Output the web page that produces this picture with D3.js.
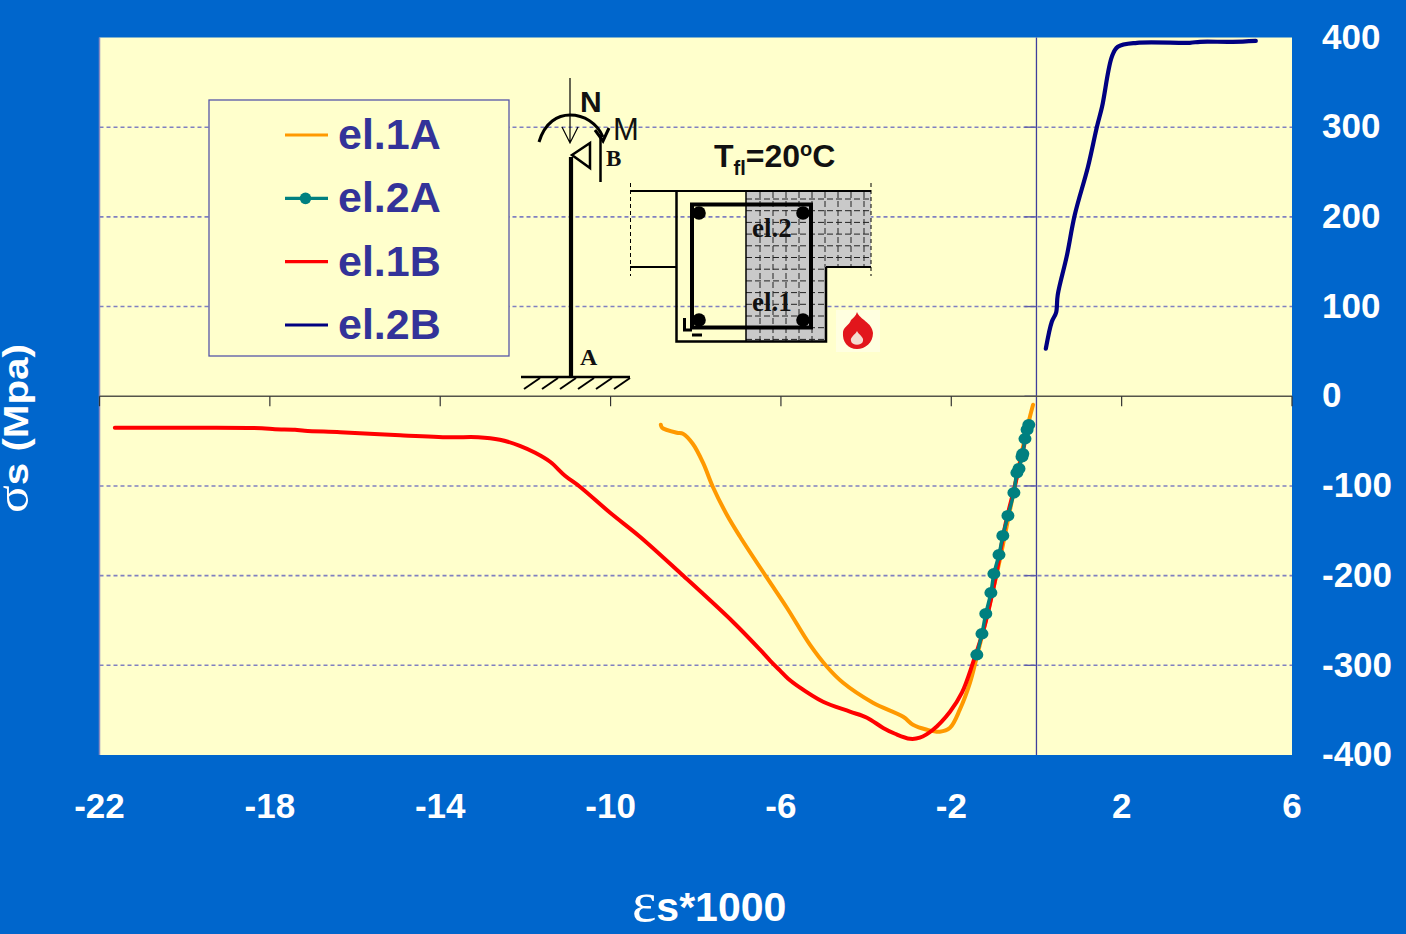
<!DOCTYPE html>
<html>
<head>
<meta charset="utf-8">
<script src="https://cdn.jsdelivr.net/npm/d3@7"></script>
<style>
  html, body { margin: 0; padding: 0; background: #0066cc; overflow: hidden; }
  svg { display: block; font-family: "Liberation Sans", Arial, sans-serif; }
</style>
</head>
<body>
<div id="chart"></div>
<script>
const xTicks = [-22, -18, -14, -10, -6, -2, 2, 6];
const yTicks = [-400, -300, -200, -100, 0, 100, 200, 300, 400];
const legendLabels = ["el.1A", "el.2A", "el.1B", "el.2B"];
const xTitle = "s*1000";
const yTitle = "s (Mpa)";

const el1A_x = [-8.82, -8.79, -8.44, -8.30, -8.07, -7.83, -7.60, -7.27, -6.96, -6.33, -5.86, -5.32, -4.92, -4.54, -3.84, -3.13, -2.90, -2.57, -2.27, -2.03, -1.80, -1.56, -1.40, -1.09, -0.86, -0.62, -0.39, -0.20, -0.08];
const el1A_y = [-31.8, -35.1, -40.7, -41.8, -53.0, -74.1, -100.9, -132.1, -156.6, -202.3, -235.8, -277.0, -301.6, -319.5, -341.7, -357.4, -366.3, -371.8, -374.0, -369.6, -349.5, -319.4, -290.4, -230.2, -182.3, -126.5, -73.0, -31.8, -9.5];

const el2A_x = [-1.40, -1.28, -1.19, -1.07, -1.00, -0.88, -0.79, -0.67, -0.53, -0.46, -0.41, -0.34, -0.32, -0.27, -0.22, -0.18];
const el2A_y = [-288.2, -264.8, -242.5, -219.1, -197.9, -176.7, -155.5, -133.2, -107.6, -85.3, -80.8, -67.4, -64.1, -47.4, -37.3, -31.8];

const el1B_x = [-21.64, -19.64, -18.19, -17.88, -17.41, -17.18, -16.35, -14.94, -13.77, -13.11, -12.60, -12.13, -11.77, -11.42, -11.07, -10.72, -10.01, -9.31, -8.37, -7.13, -6.49, -6.25, -6.02, -5.83, -5.62, -5.01, -4.38, -3.98, -3.60, -3.32, -2.97, -2.74, -2.43, -2.03, -1.75, -1.49, -1.21, -0.97, -0.72, -0.53, -0.34, -0.18];
const el1B_y = [-35.1, -35.1, -35.7, -36.8, -37.3, -38.5, -40.1, -43.5, -45.7, -45.7, -48.5, -55.2, -63.0, -73.0, -88.6, -100.9, -129.9, -156.6, -196.8, -251.4, -282.6, -295.0, -306.0, -315.0, -322.6, -340.6, -351.6, -358.4, -369.8, -376.3, -381.9, -380.7, -371.8, -351.7, -330.5, -297.1, -254.7, -204.6, -141.0, -104.2, -65.2, -31.8];

const el2B_x = [0.22, 0.36, 0.46, 0.50, 0.71, 0.90, 1.21, 1.42, 1.54, 1.77, 1.91, 2.36, 3.60, 3.84, 4.61, 5.15];
const el2B_y = [53.0, 83.1, 93.1, 113.2, 155.9, 202.3, 255.9, 300.5, 322.7, 378.5, 389.6, 394.1, 394.1, 395.2, 395.2, 396.3];

const colors = { el1A: "#ff9900", el2A: "#008080", el1B: "#ff0000", el2B: "#000080" };

const width = 1406, height = 934;
const plot = { left: 99.5, right: 1292, top: 37.5, bottom: 755 };

const x = d3.scaleLinear().domain([-22, 6]).range([plot.left, plot.right]);
const y = d3.scaleLinear().domain([-400, 400]).range([plot.bottom, plot.top]);

const svg = d3.select("#chart").append("svg")
  .attr("width", width)
  .attr("height", height);

svg.append("rect").attr("width", width).attr("height", height).attr("fill", "#0066cc");

svg.append("rect")
  .attr("x", plot.left).attr("y", plot.top)
  .attr("width", plot.right - plot.left).attr("height", plot.bottom - plot.top)
  .attr("fill", "#ffffcc");

svg.append("path")
  .attr("d", `M${plot.left},${plot.top}V${plot.bottom}`)
  .attr("stroke", "#8a8ac0").attr("stroke-width", 1.5).attr("fill", "none");

// grid
svg.append("g").selectAll("line")
  .data(yTicks.filter(d => d !== 0 && Math.abs(d) !== 400))
  .enter().append("line")
  .attr("x1", plot.left).attr("x2", plot.right)
  .attr("y1", d => y(d)).attr("y2", d => y(d))
  .attr("stroke", "#8080c0")
  .attr("stroke-width", 1.6)
  .attr("stroke-dasharray", "4,3");

// vertical axis at x = 0
svg.append("g")
  .attr("transform", `translate(${x(0)},0)`)
  .call(d3.axisLeft(y).tickValues(yTicks.filter(d => Math.abs(d) !== 400)).offset(0).tickSize(12).tickSizeOuter(0).tickFormat(""))
  .call(g => g.selectAll("line").attr("stroke", "#5c5ca8").attr("stroke-width", 1.4))
  .call(g => g.select(".domain").attr("stroke", "#3f3f9c").attr("stroke-width", 1.3));

// horizontal axis at y = 0
svg.append("g")
  .attr("transform", `translate(0,${y(0)})`)
  .call(d3.axisBottom(x).tickValues(xTicks).offset(0).tickSize(10).tickSizeOuter(0).tickFormat(""))
  .call(g => g.selectAll("line").attr("stroke", "#333").attr("stroke-width", 1.2))
  .call(g => g.select(".domain").attr("stroke", "#55554a").attr("stroke-width", 1.6));

// tick labels
svg.append("g")
  .attr("transform", `translate(0,${plot.bottom})`)
  .call(d3.axisBottom(x).tickValues(xTicks).offset(0).tickSize(0).tickPadding(38).tickFormat(d => String(d)))
  .call(g => g.select(".domain").remove())
  .call(g => g.selectAll("text")
    .attr("fill", "#ffffff").attr("font-size", 35).attr("font-weight", "bold")
    .attr("font-family", "Liberation Sans"));

svg.append("g")
  .attr("transform", `translate(${plot.right},0)`)
  .call(d3.axisRight(y).tickValues(yTicks).offset(0).tickSize(0).tickPadding(30).tickFormat(d => String(d)))
  .call(g => g.select(".domain").remove())
  .call(g => g.selectAll("text")
    .attr("fill", "#ffffff").attr("font-size", 35).attr("font-weight", "bold")
    .attr("font-family", "Liberation Sans"));

// axis titles
const xt = svg.append("text")
  .attr("x", 632).attr("y", 921)
  .attr("fill", "#fff").attr("font-size", 41).attr("font-weight", "bold");
xt.append("tspan").attr("font-family", "Liberation Serif").attr("font-weight", "normal").attr("font-size", 58).text("ε");
xt.append("tspan").text(xTitle);

const yt = svg.append("text")
  .attr("transform", "translate(28,513) rotate(-90) scale(1.12,1)")
  .attr("fill", "#fff").attr("font-size", 36).attr("font-weight", "bold");
yt.append("tspan").attr("font-family", "Liberation Serif").attr("font-weight", "normal").attr("font-size", 46).text("σ");
yt.append("tspan").text(yTitle);

// legend
const legend = svg.append("g");
legend.append("rect")
  .attr("x", 209).attr("y", 100).attr("width", 300).attr("height", 256)
  .attr("fill", "#ffffcc").attr("stroke", "#5656a8").attr("stroke-width", 1.3);

const legendY = d3.scalePoint().domain(legendLabels).range([135, 325]);
const legendColor = d3.scaleOrdinal().domain(legendLabels).range([colors.el1A, colors.el2A, colors.el1B, colors.el2B]);

legend.selectAll("line").data(legendLabels).enter().append("line")
  .attr("x1", 285).attr("x2", 328)
  .attr("y1", d => legendY(d)).attr("y2", d => legendY(d))
  .attr("stroke", d => legendColor(d)).attr("stroke-width", 3.2);

legend.append("circle")
  .attr("cx", 305.5).attr("cy", legendY("el.2A")).attr("r", 5.8).attr("fill", colors.el2A);

legend.selectAll("text").data(legendLabels).enter().append("text")
  .attr("x", 338).attr("y", d => legendY(d) + 14)
  .attr("fill", "#333399").attr("font-size", 43).attr("font-weight", "bold")
  .text(d => d);

// inset drawing: column and cross section
const inset = svg.append("g").attr("fill", "none").attr("stroke", "#000");

inset.append("path").attr("d", "M570,78V143M562,127L570,143L578,127").attr("stroke-width", 1.2);
inset.append("path").attr("d", "M571,157V377").attr("stroke-width", 4.2);
inset.append("path").attr("d", "M521,377H630").attr("stroke-width", 2.5);
inset.selectAll(".hatch").data(d3.range(6)).enter().append("line")
  .attr("x1", d => 540 + d * 18).attr("x2", d => 524 + d * 18)
  .attr("y1", 378).attr("y2", 389).attr("stroke-width", 2);
inset.append("path").attr("d", "M539,142C545,122 558,115 570,115C584,115 597,123 603,137").attr("stroke-width", 3);
inset.append("path").attr("d", "M595,130L603,141L609,128").attr("stroke-width", 3);
inset.append("path").attr("d", "M590,143L572,155L590,168Z").attr("stroke-width", 2.5);
inset.append("path").attr("d", "M600.5,135V182").attr("stroke-width", 2.5);

// gray heated zone with dashed mesh
inset.append("path")
  .attr("d", "M746,192H871V267H825V341H746Z")
  .attr("fill", "#c9c9c9").attr("stroke", "none");

const mesh = inset.append("g").attr("stroke-width", 1).attr("stroke", "#222").attr("stroke-dasharray", "6,3");
mesh.selectAll(".mh").data(d3.range(199, 340, 11.7)).enter().append("line")
  .attr("x1", 746).attr("y1", d => d).attr("y2", d => d)
  .attr("x2", d => d < 266 ? 871 : 825);
mesh.selectAll(".mv").data(d3.range(760, 871, 13)).enter().append("line")
  .attr("x1", d => d).attr("x2", d => d).attr("y1", 192)
  .attr("y2", d => d < 825 ? 341 : 267);

inset.append("path").attr("d", "M630,191H871M630,267H676M826,267H871").attr("stroke-width", 2);
inset.append("path").attr("d", "M676.5,191V341.5H826V267").attr("stroke-width", 2.5);
inset.append("path").attr("d", "M746,191V341").attr("stroke-width", 1.5);
inset.append("path").attr("d", "M630.5,183V276M871,183V276").attr("stroke-width", 1).attr("stroke-dasharray", "4,3");
inset.append("rect").attr("x", 692).attr("y", 204.5).attr("width", 119).attr("height", 123).attr("stroke-width", 4);
inset.append("path").attr("d", "M684.5,318V330H692M692,335H702").attr("stroke-width", 3);

inset.selectAll(".bar").data([[699, 213], [803, 213], [699, 320], [803, 320]]).enter().append("circle")
  .attr("cx", d => d[0]).attr("cy", d => d[1]).attr("r", 6.8)
  .attr("fill", "#000").attr("stroke", "none");

// flame
inset.append("rect").attr("x", 836).attr("y", 310).attr("width", 44).attr("height", 42)
  .attr("fill", "#ffffe0").attr("stroke", "none");
inset.append("path")
  .attr("d", "M857,312C860,320 872,322 873,333C873,343 865,349 857,349C848,349 842,342 843,332C844,326 849,326 851,320C853,318 856,316 857,312Z")
  .attr("fill", "#e2161c").attr("stroke", "none");
inset.append("path")
  .attr("d", "M857,331C859,335 864,337 863,341C862,346 852,346 851,341C850,337 855,335 857,331Z")
  .attr("fill", "#f4dcd0").attr("stroke", "none");

// inset labels
const insetText = [
  { t: "N", px: 580, py: 112, size: 30, weight: "bold", family: "Liberation Sans" },
  { t: "M", px: 613, py: 140, size: 31, weight: "normal", family: "Liberation Sans" },
  { t: "B", px: 606, py: 166, size: 23, weight: "bold", family: "Liberation Serif" },
  { t: "A", px: 580, py: 365, size: 24, weight: "bold", family: "Liberation Serif" },
  { t: "el.2", px: 752, py: 237, size: 27, weight: "bold", family: "Liberation Serif" },
  { t: "el.1", px: 752, py: 311, size: 27, weight: "bold", family: "Liberation Serif" }
];
svg.append("g").selectAll("text").data(insetText).enter().append("text")
  .attr("x", d => d.px).attr("y", d => d.py)
  .attr("font-size", d => d.size).attr("font-weight", d => d.weight)
  .attr("font-family", d => d.family).attr("fill", "#111")
  .text(d => d.t);

const tfl = svg.append("text").attr("x", 714).attr("y", 167)
  .attr("font-size", 32).attr("font-weight", "bold").attr("fill", "#111");
tfl.append("tspan").text("T");
tfl.append("tspan").attr("font-size", 20).attr("dy", 8).text("fl");
tfl.append("tspan").attr("dy", -8).text("=20");
tfl.append("tspan").attr("font-size", 20).attr("dy", -11).text("o");
tfl.append("tspan").attr("dy", 11).text("C");

// curves
const line = d3.line()
  .x(d => x(d[0]))
  .y(d => y(d[1]))
  .curve(d3.curveCatmullRom.alpha(0.5));

const drawLine = (xs, ys, color, w) => svg.append("path")
  .datum(d3.zip(xs, ys))
  .attr("d", line)
  .attr("fill", "none")
  .attr("stroke", color)
  .attr("stroke-width", w)
  .attr("stroke-linecap", "round")
  .attr("stroke-linejoin", "round");

drawLine(el1A_x, el1A_y, colors.el1A, 4);
drawLine(el1B_x, el1B_y, colors.el1B, 4);
drawLine(el2B_x, el2B_y, colors.el2B, 4.2);
drawLine(el2A_x, el2A_y, colors.el2A, 3.5);

svg.append("g").selectAll("ellipse")
  .data(d3.zip(el2A_x, el2A_y))
  .enter().append("ellipse")
  .attr("cx", d => x(d[0])).attr("cy", d => y(d[1]))
  .attr("rx", 6.5).attr("ry", 5.8)
  .attr("fill", colors.el2A);
</script>
</body>
</html>
